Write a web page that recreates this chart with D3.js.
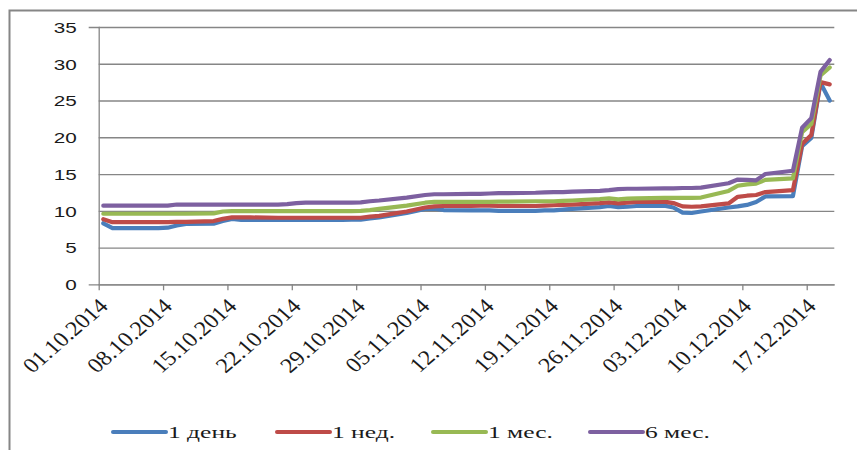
<!DOCTYPE html>
<html><head><meta charset="utf-8">
<script src="https://cdn.jsdelivr.net/npm/d3@7"></script>
<style>body{margin:0;background:#fff} svg{display:block}</style>
</head><body>
<svg id="c" width="857" height="450"></svg>
<script>
const dates = [
 "01.10.2014","02.10.2014","03.10.2014","06.10.2014","07.10.2014","08.10.2014","09.10.2014","10.10.2014",
 "13.10.2014","14.10.2014","15.10.2014","16.10.2014","17.10.2014","20.10.2014","21.10.2014","22.10.2014",
 "23.10.2014","24.10.2014","27.10.2014","28.10.2014","29.10.2014","30.10.2014","31.10.2014",
 "03.11.2014","05.11.2014","06.11.2014","07.11.2014","10.11.2014","11.11.2014","12.11.2014","13.11.2014",
 "14.11.2014","17.11.2014","18.11.2014","19.11.2014","20.11.2014","21.11.2014","24.11.2014","25.11.2014",
 "26.11.2014","27.11.2014","28.11.2014",
 "01.12.2014","02.12.2014","03.12.2014","04.12.2014","05.12.2014","08.12.2014","09.12.2014","10.12.2014",
 "11.12.2014","12.12.2014","15.12.2014","16.12.2014","17.12.2014","18.12.2014","19.12.2014"
];
const day1 = [
 8.3,7.65,7.65,7.65,7.65,7.7,8.0,8.2,8.25,8.6,8.9,8.75,8.75,8.75,8.75,8.75,8.75,8.75,8.75,8.8,8.8,8.95,9.1,
 9.7,10.25,10.3,10.1,10.05,10.05,10.05,10.0,10.0,10.0,10.05,10.05,10.15,10.25,10.5,10.65,10.5,10.55,10.65,
 10.7,10.45,9.75,9.7,9.9,10.45,10.6,10.8,11.2,11.95,12.0,18.8,19.9,27.4,25.0
];
const week1 = [
 8.85,8.45,8.45,8.45,8.45,8.45,8.5,8.5,8.6,8.9,9.1,9.1,9.1,9.05,9.05,9.05,9.05,9.05,9.05,9.05,9.05,9.2,9.3,
 9.9,10.45,10.6,10.65,10.65,10.7,10.7,10.65,10.65,10.65,10.7,10.75,10.8,10.85,11.05,11.15,11.0,11.1,11.2,
 11.25,11.05,10.6,10.55,10.6,11.0,11.9,12.05,12.15,12.55,12.8,19.1,20.3,27.5,27.2
];
const month1 = [
 9.6,9.6,9.6,9.6,9.6,9.6,9.6,9.6,9.65,9.9,9.95,9.95,9.95,9.95,9.95,9.95,9.95,9.95,9.95,9.95,10.0,10.1,10.25,
 10.7,11.1,11.2,11.2,11.2,11.2,11.2,11.25,11.25,11.3,11.3,11.3,11.35,11.4,11.6,11.7,11.55,11.65,11.7,
 11.75,11.75,11.75,11.75,11.8,12.7,13.4,13.6,13.7,14.2,14.4,20.7,21.8,28.4,29.5
];
const month6 = [
 10.7,10.7,10.7,10.7,10.7,10.7,10.85,10.85,10.85,10.85,10.85,10.85,10.85,10.85,10.9,11.05,11.1,11.1,11.1,11.1,11.15,11.3,11.4,
 11.8,12.15,12.25,12.25,12.3,12.3,12.35,12.4,12.4,12.45,12.5,12.55,12.55,12.6,12.7,12.8,12.95,13.0,13.0,
 13.05,13.05,13.1,13.1,13.15,13.75,14.25,14.2,14.15,15.0,15.45,21.3,22.6,28.9,30.5
];
const seriesNames = ["1 день","1 нед.","1 мес.","6 мес."];
const seriesColors = ["#4A7EBB","#BE4B48","#98B954","#7D60A0"];
const yTicks = [0,5,10,15,20,25,30,35];
const xTickLabels = ["01.10.2014","08.10.2014","15.10.2014","22.10.2014","29.10.2014","05.11.2014",
 "12.11.2014","19.11.2014","26.11.2014","03.12.2014","10.12.2014","17.12.2014"];
const axisStart = "01.10.2014", axisEnd = "20.12.2014";

const parse = d3.utcParse("%d.%m.%Y");
const svg = d3.select("#c");
const L = 98.7, R = 834.3, T = 27, B = 284.3;
const x = d3.scaleUtc().domain([parse(axisStart), parse(axisEnd)]).range([L, R]);
const y = d3.scaleLinear().domain([0, 35]).range([B, T]);
const grey = "#868686";

// outer frame (left + top)
svg.append("path").attr("d", "M9.5,450V10.5H857").attr("fill","none").attr("stroke", grey).attr("stroke-width", 2);

// grid + y axis
const gy = svg.append("g").attr("transform", `translate(${L},0)`)
  .call(d3.axisLeft(y).tickValues(yTicks).tickSize(10).tickFormat(d3.format("d")));
gy.select(".domain").attr("stroke", grey).attr("stroke-width", 1.3);
gy.selectAll(".tick line").attr("stroke", grey).attr("stroke-width", 1.3).attr("x2", R - L);
gy.selectAll(".tick text").remove();
gy.selectAll(".tick").append("text")
  .attr("transform", "translate(-22,0) scale(1.38,1)")
  .attr("text-anchor", "end").attr("dy", "0.36em")
  .attr("font-family", "Liberation Sans, Arial, sans-serif").attr("font-size", 15).attr("fill", "#1a1a1a")
  .text(d => d);

// x axis
const gx = svg.append("g").attr("transform", `translate(0,${B})`)
  .call(d3.axisBottom(x).tickValues(xTickLabels.map(parse)).tickSize(6).tickSizeOuter(0).tickFormat(d3.utcFormat("%d.%m.%Y")));
gx.select(".domain").attr("stroke", grey).attr("stroke-width", 1.3);
gx.selectAll(".tick line").attr("stroke", grey).attr("stroke-width", 1.3);
gx.selectAll(".tick text")
  .attr("text-anchor", "end").attr("y", 0).attr("dy", 0)
  .attr("transform", "translate(10,23) scale(1.15,1) rotate(-45)")
  .attr("font-family", "Liberation Serif, Times New Roman, serif").attr("font-size", 21).attr("fill", "#1a1a1a");

// lines
const allSeries = [day1, week1, month1, month6];
const line = d3.line()
  .x((d, i) => x(d3.utcHour.offset(parse(dates[i]), 12)))
  .y(d => y(d));
allSeries.forEach((s, k) => {
  svg.append("path").datum(s).attr("d", line)
    .attr("fill", "none").attr("stroke", seriesColors[k]).attr("stroke-width", 4.2)
    .attr("stroke-linejoin", "round").attr("stroke-linecap", "round");
});

// legend
const legX = [113, 277, 433, 590], legY = 432;
const lg = svg.append("g");
seriesNames.forEach((n, k) => {
  lg.append("line").attr("x1", legX[k]).attr("x2", legX[k] + 53).attr("y1", legY).attr("y2", legY)
    .attr("stroke", seriesColors[k]).attr("stroke-width", 4).attr("stroke-linecap", "round");
  lg.append("text").attr("transform", `translate(${legX[k] + 55},${legY}) scale(1.5,1)`)
    .attr("dy", "0.33em").attr("font-family", "Liberation Serif, Times New Roman, serif")
    .attr("font-size", 17).attr("fill", "#1a1a1a").text(n);
});
</script>
</body></html>
